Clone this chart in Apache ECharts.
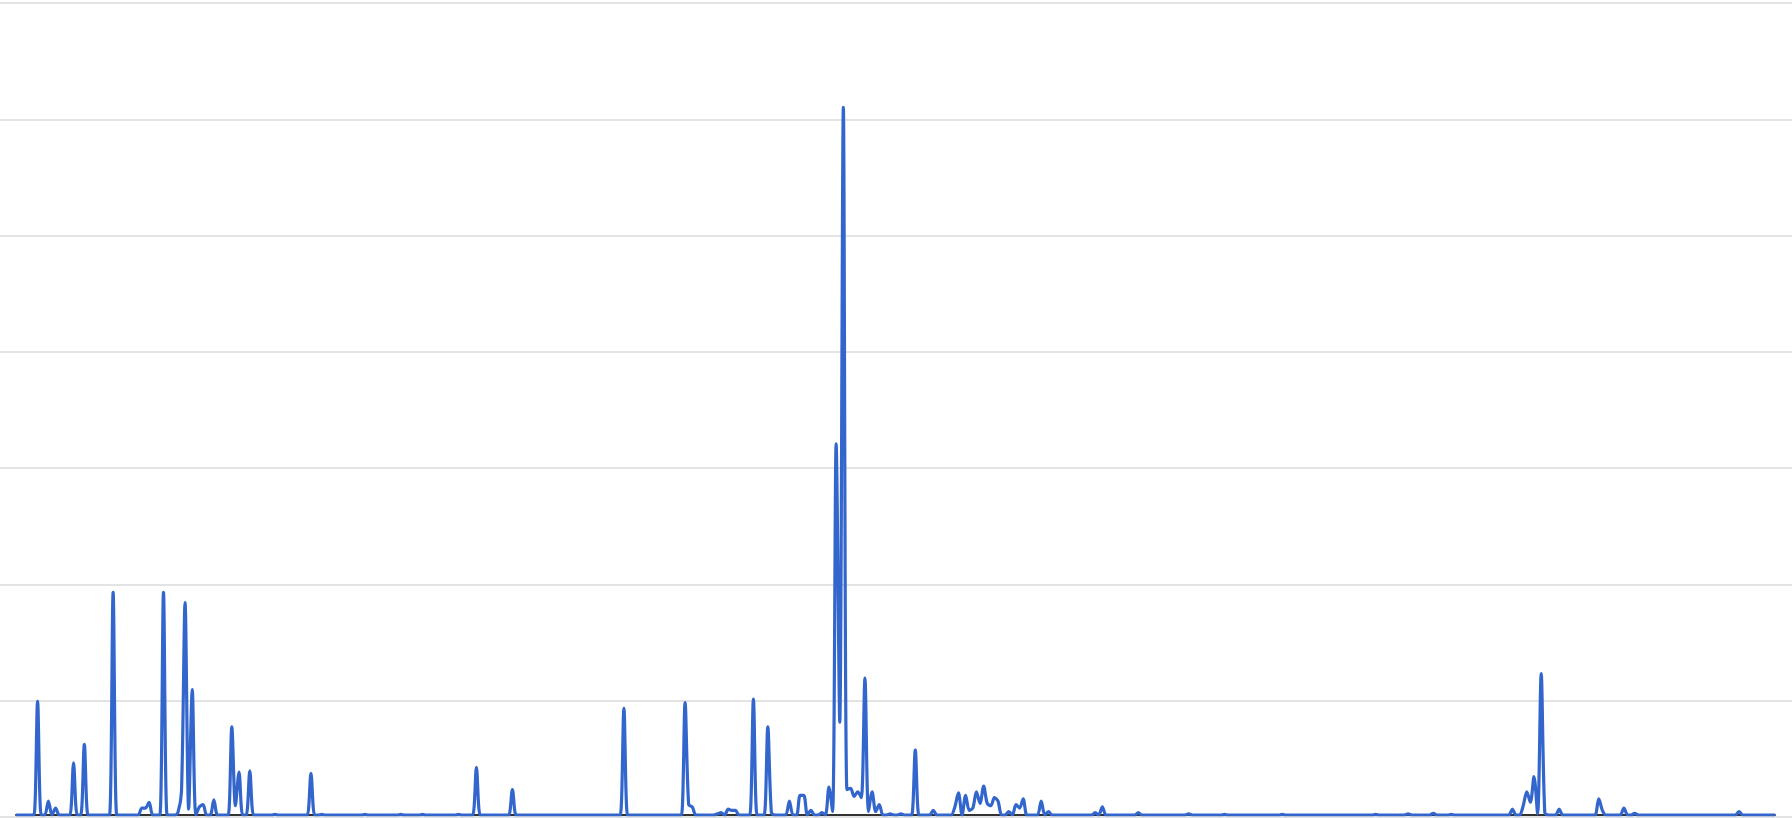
<!DOCTYPE html>
<html>
<head>
<meta charset="utf-8">
<title>Daily series</title>
<script src="https://cdn.jsdelivr.net/npm/echarts@6/dist/echarts.min.js"></script>
<style>
  html, body { margin: 0; padding: 0; background: #fff; }
  #chart { width: 1792px; height: 818px; }
</style>
</head>
<body>
<div id="chart"></div>
<script>
// Number of points along the x axis; every point not listed below sits on zero.
const pointCount = 490;

// Non-zero points: position (index) and value.
// Units: one gridline step = 100.
const peakIdx = [
  6, 9, 11, 16, 19, 27, 35, 36, 37, 41, 45, 46, 47, 48, 49, 51, 52, 55,
  60, 61, 62, 65, 72, 82, 85, 97, 107, 113, 123, 128, 138, 169,
  186, 187, 188, 195, 196, 198, 199, 200, 205, 209, 210, 215, 218, 219,
  221, 224, 226, 227, 228, 229, 230, 231, 232, 233, 234, 235, 236, 237,
  238, 239, 240, 243, 246, 250, 255, 261, 262, 264, 265, 266, 267, 268,
  269, 270, 271, 272, 273, 276, 278, 279, 280, 285, 287, 300, 302, 312,
  326, 336, 352, 378, 387, 394, 399, 416, 419, 420, 421, 422, 423, 424,
  425, 429, 440, 441, 447, 450, 479
];
const peakVal = [
  98, 12, 6, 45, 61, 192, 6, 6, 11, 192, 2, 20, 183, 5, 108, 7, 9, 13,
  76, 8, 37, 38, 0.5, 36, 0.5, 0.5, 0.5, 0.5, 0.5, 41, 22, 92,
  97, 9, 7, 1, 2, 5, 4, 4, 100, 76, 2, 12, 17, 17,
  4, 2, 24, 3, 320, 80, 610, 22, 23, 16, 20, 15, 118, 3,
  20, 3, 9, 1, 1, 56, 4, 7, 19, 17, 4, 6, 20, 10,
  25, 10, 8, 15, 12, 3, 9, 6, 14, 12, 3, 2, 7, 2,
  1, 0.5, 0.5, 0.5, 1, 1.5, 0.5, 5, 8, 20, 11, 33, 1, 122,
  2, 5, 14, 4, 6, 1.5, 3
];

// y axis: 0..700, a gridline every 100
const yMax = 700;
const yStep = 100;

const categories = [];
const values = [];
for (let i = 0; i < pointCount; i++) {
  categories.push(String(i));
  values.push(0);
}
peakIdx.forEach((idx, k) => { values[idx] = peakVal[k]; });

const chart = echarts.init(document.getElementById('chart'), null, { renderer: 'canvas' });

chart.setOption({
  backgroundColor: '#ffffff',
  animation: false,
  grid: [
    // background grid: full-width horizontal gridlines
    { left: 0, right: 0, top: 3, bottom: 1 },
    // data grid
    { left: 16, right: 17, top: 3, bottom: 3 },
  ],
  xAxis: [
    {
      gridIndex: 0, type: 'category', data: categories,
      axisLine: { show: false }, axisTick: { show: false },
      axisLabel: { show: false }, splitLine: { show: false },
    },
    {
      gridIndex: 1, type: 'category', data: categories, boundaryGap: false,
      offset: 1.5,
      axisLine: { show: true, lineStyle: { color: '#333333', width: 2 } },
      axisTick: { show: false }, axisLabel: { show: false }, splitLine: { show: false },
    },
  ],
  yAxis: [
    {
      gridIndex: 0, type: 'value', min: 0, max: yMax, interval: yStep,
      axisLine: { show: false }, axisTick: { show: false }, axisLabel: { show: false },
      splitLine: { show: true, lineStyle: { color: '#e3e3e3', width: 2 } },
    },
    {
      gridIndex: 1, type: 'value', min: 0, max: yMax, interval: yStep,
      axisLine: { show: false }, axisTick: { show: false }, axisLabel: { show: false },
      splitLine: { show: false },
    },
  ],
  series: [
    {
      type: 'line',
      xAxisIndex: 1,
      yAxisIndex: 1,
      data: values,
      smooth: 0.3,
      symbol: 'none',
      lineStyle: { color: '#3366cc', width: 3.2 },
      z: 3,
    },
  ],
});
</script>
</body>
</html>
